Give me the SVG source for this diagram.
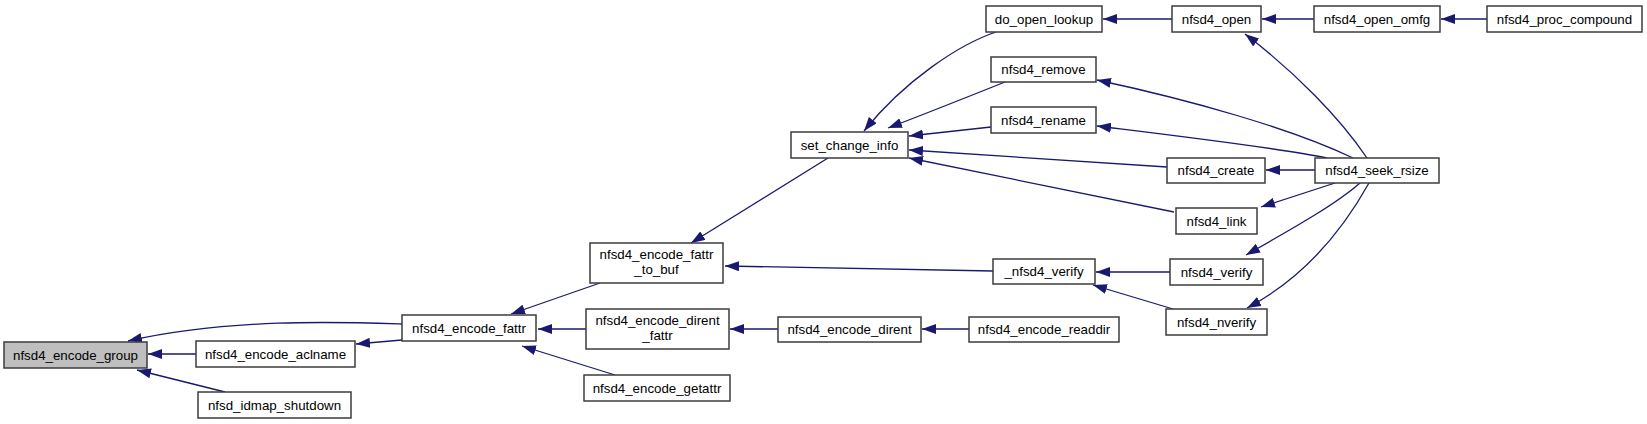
<svg xmlns="http://www.w3.org/2000/svg" width="1647" height="424" viewBox="0 0 1647 424">
<style>
.n rect{fill:#fff;stroke:#3c3c3c;stroke-width:1.5}
.n text{font-family:"Liberation Sans",Arial,sans-serif;font-size:13.3px;text-anchor:middle;fill:#000}
.e path{fill:none;stroke:#191970;stroke-width:1.3;marker-end:url(#a)}
</style>
<defs><marker id="a" markerUnits="userSpaceOnUse" viewBox="0 0 14 10" refX="14" refY="5" markerWidth="14" markerHeight="10" orient="auto"><path d="M0,0L14,5L0,10z" fill="#191970"/></marker></defs>
<rect width="1647" height="424" fill="#fff"/>
<g class="e" id="edges">
<path d="M402,324 C340,322 230,318 128,341"/>
<path d="M196,354 L148,354"/>
<path d="M225,392 L137,370"/>
<path d="M402,340 L356,344"/>
<path d="M600,283 L511,314"/>
<path d="M586,329 L538,329"/>
<path d="M615,375 L522,346"/>
<path d="M828,158 L691,243"/>
<path d="M993,271 L725,266"/>
<path d="M778,329 L730,329"/>
<path d="M969,329 L922,329"/>
<path d="M996,32 C960,44 905,80 864,131"/>
<path d="M1005,82 C975,94 930,112 888,128"/>
<path d="M991,127 L909,136"/>
<path d="M1167,167 L909,150"/>
<path d="M1174,212 L909,158"/>
<path d="M1172,19 L1103,19"/>
<path d="M1314,19 L1262,19"/>
<path d="M1487,19 L1441,19"/>
<path d="M1367,158 C1340,118 1295,72 1245,34"/>
<path d="M1353,158 C1290,128 1190,100 1097,80"/>
<path d="M1327,158 C1280,148 1170,135 1097,126"/>
<path d="M1315,170 L1266,170"/>
<path d="M1335,183 L1261,207"/>
<path d="M1360,183 C1335,205 1290,230 1246,255"/>
<path d="M1369,183 C1340,235 1300,280 1247,308"/>
<path d="M1170,272 L1096,272"/>
<path d="M1173,309 L1093,285"/>
</g>
<g class="n" id="n_group"><rect x="4" y="342" width="143" height="26" style="fill:#bfbfbf"/><text x="75.5" y="359.5">nfsd4_encode_group</text></g>
<g class="n" id="n_aclname"><rect x="196" y="341" width="159" height="26"/><text x="275.5" y="358.5">nfsd4_encode_aclname</text></g>
<g class="n" id="n_idmap"><rect x="198" y="392" width="153" height="26"/><text x="274.5" y="409.5">nfsd_idmap_shutdown</text></g>
<g class="n" id="n_fattr"><rect x="402" y="315" width="134" height="26"/><text x="469" y="332.5">nfsd4_encode_fattr</text></g>
<g class="n" id="n_fattr_to_buf"><rect x="590" y="243" width="133" height="40"/><text x="656.5" y="259">nfsd4_encode_fattr</text><text x="656.5" y="274">_to_buf</text></g>
<g class="n" id="n_dirent_fattr"><rect x="586" y="309" width="143" height="40"/><text x="657.5" y="325">nfsd4_encode_dirent</text><text x="657.5" y="340">_fattr</text></g>
<g class="n" id="n_getattr"><rect x="584" y="375" width="146" height="26"/><text x="657" y="392.5">nfsd4_encode_getattr</text></g>
<g class="n" id="n_set_change_info"><rect x="791" y="132" width="117" height="26"/><text x="849.5" y="149.5">set_change_info</text></g>
<g class="n" id="n_encode_dirent"><rect x="778" y="317" width="143" height="25"/><text x="849.5" y="334">nfsd4_encode_dirent</text></g>
<g class="n" id="n_do_open_lookup"><rect x="986" y="6" width="116" height="26"/><text x="1044" y="23.5">do_open_lookup</text></g>
<g class="n" id="n_remove"><rect x="991" y="57" width="105" height="25"/><text x="1043.5" y="74">nfsd4_remove</text></g>
<g class="n" id="n_rename"><rect x="991" y="107" width="105" height="26"/><text x="1043.5" y="124.5">nfsd4_rename</text></g>
<g class="n" id="n__verify"><rect x="993" y="259" width="102" height="25"/><text x="1044" y="276">_nfsd4_verify</text></g>
<g class="n" id="n_readdir"><rect x="969" y="317" width="150" height="25"/><text x="1044" y="334">nfsd4_encode_readdir</text></g>
<g class="n" id="n_open"><rect x="1172" y="6" width="89" height="26"/><text x="1216.5" y="23.5">nfsd4_open</text></g>
<g class="n" id="n_create"><rect x="1167" y="158" width="98" height="25"/><text x="1216" y="175">nfsd4_create</text></g>
<g class="n" id="n_link"><rect x="1176" y="208" width="81" height="26"/><text x="1216.5" y="225.5">nfsd4_link</text></g>
<g class="n" id="n_verify"><rect x="1170" y="259" width="93" height="26"/><text x="1216.5" y="276.5">nfsd4_verify</text></g>
<g class="n" id="n_nverify"><rect x="1166" y="309" width="101" height="26"/><text x="1216.5" y="326.5">nfsd4_nverify</text></g>
<g class="n" id="n_open_omfg"><rect x="1314" y="6" width="126" height="26"/><text x="1377" y="23.5">nfsd4_open_omfg</text></g>
<g class="n" id="n_seek_rsize"><rect x="1315" y="158" width="124" height="25"/><text x="1377" y="175">nfsd4_seek_rsize</text></g>
<g class="n" id="n_proc_compound"><rect x="1487" y="6" width="155" height="26"/><text x="1564.5" y="23.5">nfsd4_proc_compound</text></g>
</svg>
